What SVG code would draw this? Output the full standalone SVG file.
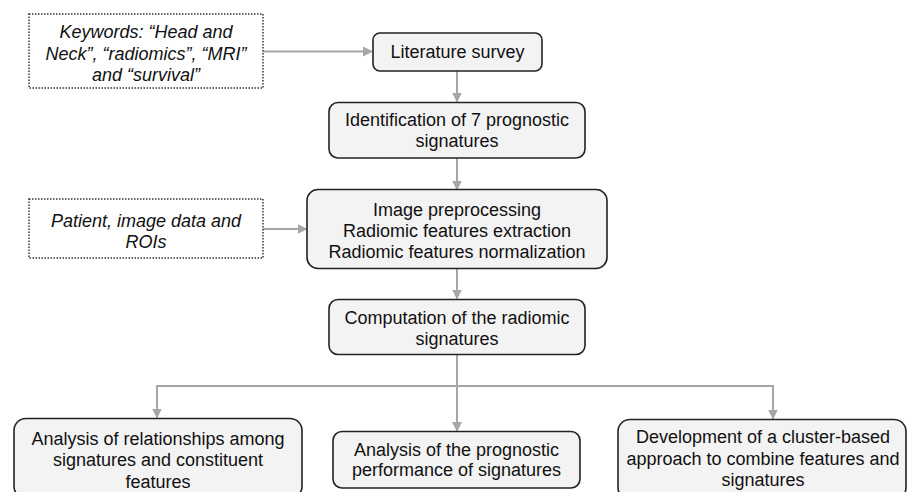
<svg xmlns="http://www.w3.org/2000/svg" width="907" height="492" viewBox="0 0 907 492">
<style>
.box{fill:#f3f3f3;stroke:#222;stroke-width:1.6}
.dot{fill:#fff;stroke:#333;stroke-width:1.5;stroke-dasharray:1.5 1.5}
.t{font-family:"Liberation Sans",Arial,sans-serif;font-size:18px;fill:#111;text-anchor:middle}
.i{font-style:italic}
.c{fill:none;stroke:#a6a6a6;stroke-width:2}
</style>
<defs>
<marker id="ah" markerUnits="userSpaceOnUse" markerWidth="10" markerHeight="10" refX="9" refY="5" orient="auto">
<path d="M0,0 L10,5 L0,10 z" fill="#a6a6a6"/>
</marker>
</defs>
<rect width="907" height="492" fill="#fff"/>
<g id="connectors">
<line class="c" x1="263" y1="51.5" x2="372" y2="51.5" marker-end="url(#ah)"/>
<line class="c" x1="457" y1="71" x2="457" y2="101.5" marker-end="url(#ah)"/>
<line class="c" x1="457" y1="158" x2="457" y2="189.5" marker-end="url(#ah)"/>
<line class="c" x1="263" y1="229" x2="306.5" y2="229" marker-end="url(#ah)"/>
<line class="c" x1="457" y1="268" x2="457" y2="298.5" marker-end="url(#ah)"/>
<line class="c" x1="457" y1="355" x2="457" y2="431" marker-end="url(#ah)"/>
<path class="c" d="M457,386 H157 V417.5" marker-end="url(#ah)"/>
<path class="c" d="M457,386 H773 V418.5" marker-end="url(#ah)"/>
</g>
<g id="keywords">
<rect class="dot" x="29" y="14" width="234" height="74"/>
<text class="t i" x="146" y="38">Keywords: “Head and</text>
<text class="t i" x="146" y="59.5">Neck”, “radiomics”, “MRI”</text>
<text class="t i" x="146" y="80.5">and “survival”</text>
</g>
<g id="literature">
<rect class="box" x="373" y="33" width="169" height="38" rx="7"/>
<text class="t" x="457.5" y="58">Literature survey</text>
</g>
<g id="identification">
<rect class="box" x="329" y="102.5" width="256" height="55.5" rx="9"/>
<text class="t" x="457" y="125.5">Identification of 7 prognostic</text>
<text class="t" x="457" y="147">signatures</text>
</g>
<g id="patient">
<rect class="dot" x="29" y="199" width="234" height="59"/>
<text class="t i" x="146" y="226.5">Patient, image data and</text>
<text class="t i" x="146" y="247.5">ROIs</text>
</g>
<g id="preprocessing">
<rect class="box" x="307" y="189.5" width="300" height="79" rx="11"/>
<text class="t" x="457" y="216">Image preprocessing</text>
<text class="t" x="457" y="237">Radiomic features extraction</text>
<text class="t" x="457" y="258">Radiomic features normalization</text>
</g>
<g id="computation">
<rect class="box" x="329" y="299.5" width="256" height="55" rx="9"/>
<text class="t" x="457" y="324">Computation of the radiomic</text>
<text class="t" x="457" y="345">signatures</text>
</g>
<g id="relationships">
<rect class="box" x="14" y="418.5" width="288" height="80" rx="12"/>
<text class="t" x="158" y="444.5">Analysis of relationships among</text>
<text class="t" x="158" y="466">signatures and constituent</text>
<text class="t" x="158" y="487.5">features</text>
</g>
<g id="performance">
<rect class="box" x="333" y="431.5" width="247" height="56.5" rx="9"/>
<text class="t" x="456.5" y="455.5">Analysis of the prognostic</text>
<text class="t" x="456.5" y="476">performance of signatures</text>
</g>
<g id="cluster">
<rect class="box" x="618" y="419.5" width="288" height="80" rx="12"/>
<text class="t" x="763" y="443">Development of a cluster-based</text>
<text class="t" x="763" y="464.5">approach to combine features and</text>
<text class="t" x="763" y="486">signatures</text>
</g>
</svg>
